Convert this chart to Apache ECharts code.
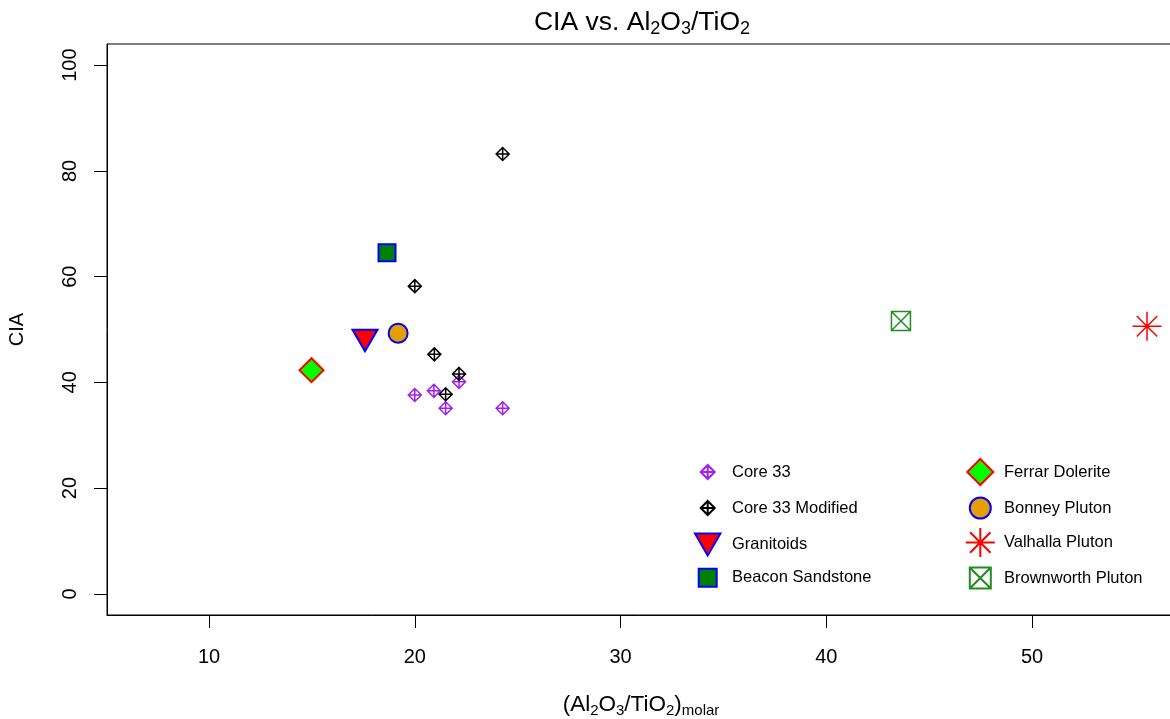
<!DOCTYPE html>
<html>
<head>
<meta charset="utf-8">
<script src="https://cdn.jsdelivr.net/npm/echarts@6/dist/echarts.min.js"></script>
<style>
html,body{margin:0;padding:0;background:#fff;}
#chart{width:1170px;height:719px;}
</style>
</head>
<body>
<div id="chart"></div>
<script>
// ---- data ----
const xTicks = [10, 20, 30, 40, 50];
const yTicks = [0, 20, 40, 60, 80, 100];

const core33X = [20.0, 20.93, 21.5, 22.15, 24.27];
const core33Y = [37.6, 38.4, 35.1, 40.1, 35.1];

const core33ModX = [20.0, 20.95, 21.5, 22.15, 24.27];
const core33ModY = [58.2, 45.3, 37.75, 41.6, 83.2];

const granitoidsX = [17.58];
const granitoidsY = [48.6];

const beaconX = [18.65];
const beaconY = [64.5];

const ferrarX = [14.98];
const ferrarY = [42.3];

const bonneyX = [19.19];
const bonneyY = [49.3];

const valhallaX = [55.59];
const valhallaY = [50.6];

const brownworthX = [43.63];
const brownworthY = [51.6];

// ---- symbols ----
const P_DIAMOND_PLUS = 'path://M0,-1 L1,0 L0,1 L-1,0 Z M0,-1 L0,1 M-1,0 L1,0';
const P_DIAMOND = 'path://M0,-1 L1,0 L0,1 L-1,0 Z';
const P_TRI_DOWN = 'path://M-1.347,-0.778 L1.347,-0.778 L0,1.555 Z';
const P_SQUARE = 'path://M-1,-1 L1,-1 L1,1 L-1,1 Z';
const P_CIRCLE = 'path://M-1,0 A1,1 0 1,0 1,0 A1,1 0 1,0 -1,0 Z';
const P_ASTER = 'path://M-1,0 L1,0 M0,-1 L0,1 M-0.7071,-0.7071 L0.7071,0.7071 M-0.7071,0.7071 L0.7071,-0.7071';
const P_SQUARE_X = 'path://M-1,-1 L1,-1 L1,1 L-1,1 Z M-1,-1 L1,1 M-1,1 L1,-1';

const FONT = 'Liberation Sans, Arial, sans-serif';
const zip = (xs, ys) => xs.map((x, i) => [x, ys[i]]);

const seriesDefs = [
  {name: 'Core 33', x: core33X, y: core33Y, symbol: P_DIAMOND_PLUS, size: 13,
   style: {color: 'rgba(0,0,0,0)', borderColor: '#A020F0', borderWidth: 1.5, opacity: 1}},
  {name: 'Core 33 Modified', x: core33ModX, y: core33ModY, symbol: P_DIAMOND_PLUS, size: 13,
   style: {color: 'rgba(0,0,0,0)', borderColor: '#000000', borderWidth: 1.5, opacity: 1}},
  {name: 'Granitoids', x: granitoidsX, y: granitoidsY, symbol: P_TRI_DOWN, size: [25, 21.5], offset: [0, 3.6],
   style: {color: '#FF0000', borderColor: '#0000FF', borderWidth: 2, opacity: 1}},
  {name: 'Beacon Sandstone', x: beaconX, y: beaconY, symbol: P_SQUARE, size: 17,
   style: {color: '#008000', borderColor: '#0000FF', borderWidth: 2, opacity: 1}},
  {name: 'Ferrar Dolerite', x: ferrarX, y: ferrarY, symbol: P_DIAMOND, size: 24,
   style: {color: '#00FF00', borderColor: '#FF0000', borderWidth: 2, opacity: 1}},
  {name: 'Bonney Pluton', x: bonneyX, y: bonneyY, symbol: P_CIRCLE, size: 19,
   style: {color: '#E69F00', borderColor: '#0000FF', borderWidth: 2, opacity: 1}},
  {name: 'Valhalla Pluton', x: valhallaX, y: valhallaY, symbol: P_ASTER, size: 29,
   style: {color: 'rgba(0,0,0,0)', borderColor: '#FF0000', borderWidth: 1.5, opacity: 1}},
  {name: 'Brownworth Pluton', x: brownworthX, y: brownworthY, symbol: P_SQUARE_X, size: 19,
   style: {color: 'rgba(0,0,0,0)', borderColor: '#228B22', borderWidth: 1.5, opacity: 1}}
];

// legend layout: [name, iconCenterX, textX, rowCenterY, iconHeight, iconWidth]
const legendLayout = [
  ['Core 33', 706.7, 731, 470.5, 14, 14],
  ['Core 33 Modified', 706.7, 731, 506.5, 14, 14],
  ['Granitoids', 706.7, 731, 543.5, 22, 25.4],
  ['Beacon Sandstone', 706.7, 731, 576.7, 18, 18],
  ['Ferrar Dolerite', 979.3, 1003, 471, 26, 26],
  ['Bonney Pluton', 979.3, 1003, 507, 21, 21],
  ['Valhalla Pluton', 979.3, 1003, 541.5, 29, 29],
  ['Brownworth Pluton', 979.3, 1003, 577, 21, 21]
];

const legends = legendLayout.map(([name, cx, tx, cy, h, iw]) => {
  const w = 2 * (tx - cx - 5);
  return {
    data: [name],
    left: cx - iw / 2,
    top: cy - h / 2,
    itemWidth: w,
    itemHeight: h,
    padding: 0,
    selectedMode: false,
    symbolKeepAspect: true,
    itemStyle: {opacity: 1},
    textStyle: {fontSize: 16.5, color: '#000', fontFamily: FONT}
  };
});

const subRich = (size, lh) => ({
  s: {fontSize: size, fontFamily: FONT, color: '#000', verticalAlign: 'bottom', lineHeight: lh}
});

const chart = echarts.init(document.getElementById('chart'), null, {renderer: 'canvas'});
chart.setOption({
  backgroundColor: '#fff',
  animation: false,
  title: {
    text: 'CIA vs. Al{s|2}O{s|3}/TiO{s|2}',
    left: 637,
    textAlign: 'center',
    top: 2,
    textStyle: {fontSize: 26.5, fontWeight: 'normal', color: '#000', fontFamily: FONT, lineHeight: 31,
      rich: subRich(18, 18)}
  },
  legend: legends,
  grid: {left: 107, top: 44, right: -5, bottom: 104, show: true, borderColor: '#000', borderWidth: 1,
    containLabel: false, outerBoundsMode: 'none'},
  xAxis: {
    type: 'value',
    position: 'bottom',
    min: 5.04,
    max: 56.95,
    name: '(Al{s|2}O{s|3}/TiO{s|2}){m|molar}',
    nameLocation: 'middle',
    nameGap: 76,
    nameTextStyle: {fontSize: 22.5, color: '#000', fontFamily: FONT, lineHeight: 27,
      rich: Object.assign(subRich(15, 15), {m: {fontSize: 15, fontFamily: FONT, color: '#000', verticalAlign: 'bottom', lineHeight: 15}})},
    axisLine: {show: true, onZero: false, lineStyle: {color: '#000', width: 1}},
    splitLine: {show: false},
    axisTick: {show: true, length: 13, inside: false, customValues: xTicks, lineStyle: {color: '#000', width: 1}},
    axisLabel: {customValues: xTicks, fontSize: 20, color: '#000', fontFamily: FONT, margin: 32}
  },
  yAxis: {
    type: 'value',
    position: 'left',
    min: -4,
    max: 104,
    name: 'CIA',
    nameLocation: 'middle',
    nameGap: 80,
    nameRotate: 90,
    nameTextStyle: {fontSize: 20, color: '#000', fontFamily: FONT},
    axisLine: {show: true, onZero: false, lineStyle: {color: '#000', width: 1}},
    splitLine: {show: false},
    axisTick: {show: true, length: 13, inside: false, customValues: yTicks, lineStyle: {color: '#000', width: 1}},
    axisLabel: {customValues: yTicks, fontSize: 20, color: '#000', fontFamily: FONT, rotate: 90, margin: 27}
  },
  series: seriesDefs.map(d => ({
    name: d.name,
    type: 'scatter',
    data: zip(d.x, d.y),
    symbol: d.symbol,
    symbolSize: d.size,
    symbolOffset: d.offset || [0, 0],
    symbolKeepAspect: false,
    itemStyle: d.style,
    emphasis: {disabled: true}
  }))
});
</script>
</body>
</html>
